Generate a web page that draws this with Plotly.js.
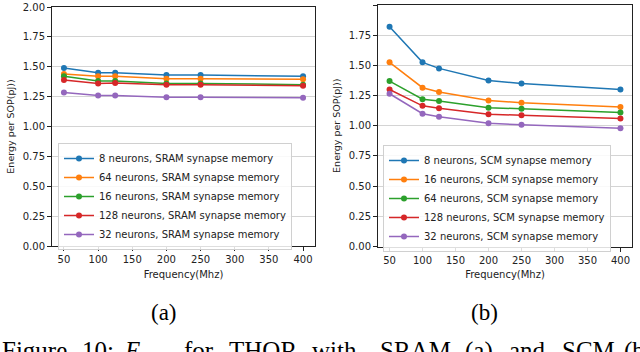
<!DOCTYPE html>
<html>
<head>
<meta charset="utf-8">
<script src="https://cdn.plot.ly/plotly-3.0.1.min.js"></script>
<style>
  html, body { margin: 0; padding: 0; background: #fff; }
  #chart { width: 640px; height: 352px; }
</style>
</head>
<body>
<div id="chart"></div>
<script>
// frequencies (MHz)
var freq = [50, 100, 125, 200, 250, 400];

// (a) SRAM synapse memory, energy per SOP (pJ)
var sramNames = ['8 neurons, SRAM synapse memory', '64 neurons, SRAM synapse memory',
  '16 neurons, SRAM synapse memory', '128 neurons, SRAM synapse memory', '32 neurons, SRAM synapse memory'];
var sram8   = [1.49, 1.45, 1.45, 1.43, 1.43, 1.42];
var sram64  = [1.44, 1.42, 1.42, 1.40, 1.40, 1.395];
var sram16  = [1.42, 1.38, 1.38, 1.36, 1.36, 1.35];
var sram128 = [1.39, 1.36, 1.365, 1.35, 1.35, 1.34];
var sram32  = [1.285, 1.26, 1.26, 1.245, 1.245, 1.24];

// (b) SCM synapse memory, energy per SOP (pJ)
var scmNames = ['8 neurons, SCM synapse memory', '16 neurons, SCM synapse memory',
  '64 neurons, SCM synapse memory', '128 neurons, SCM synapse memory', '32 neurons, SCM synapse memory'];
var scm8   = [1.82, 1.525, 1.475, 1.375, 1.35, 1.30];
var scm16  = [1.525, 1.315, 1.28, 1.21, 1.19, 1.155];
var scm64  = [1.37, 1.22, 1.205, 1.15, 1.14, 1.11];
var scm128 = [1.30, 1.165, 1.145, 1.095, 1.087, 1.06];
var scm32  = [1.265, 1.10, 1.075, 1.02, 1.008, 0.98];

var colors = ['#1f77b4', '#ff7f0e', '#2ca02c', '#d62728', '#9467bd'];

function mk(y, name, color, ax, leg) {
  return {
    x: freq, y: y, name: name, type: 'scatter', mode: 'lines+markers',
    xaxis: ax[0], yaxis: ax[1], legend: leg,
    line: {color: color, width: 1.5},
    marker: {color: color, size: 6}
  };
}

var data = [];
[sram8, sram64, sram16, sram128, sram32].forEach(function (s, i) {
  data.push(mk(s, sramNames[i], colors[i], ['x', 'y'], 'legend'));
});
[scm8, scm16, scm64, scm128, scm32].forEach(function (s, i) {
  data.push(mk(s, scmNames[i], colors[i], ['x2', 'y2'], 'legend2'));
});

var tickFont = {family: 'DejaVu Sans', size: 10, color: '#222'};

function xax(domain, anchor) {
  return {
    domain: domain, anchor: anchor, range: [32.5, 417.5],
    tickvals: [50, 100, 150, 200, 250, 300, 350, 400],
    ticks: 'outside', ticklen: 4, tickcolor: '#222',
    showline: true, mirror: true, linecolor: '#222', linewidth: 1,
    showgrid: false, zeroline: false, tickfont: tickFont,
    title: {text: 'Frequency(Mhz)', font: {family: 'DejaVu Sans', size: 10, color: '#222'}, standoff: 6}
  };
}
function yax(domain, anchor) {
  return {
    domain: domain, anchor: anchor, range: [0, 2],
    tickvals: [0, 0.25, 0.5, 0.75, 1, 1.25, 1.5, 1.75, 2], tickformat: '.2f',
    ticks: 'outside', ticklen: 4, tickcolor: '#222',
    showline: true, mirror: true, linecolor: '#222', linewidth: 1,
    showgrid: true, gridcolor: '#d4d4d4', gridwidth: 1, zeroline: false, tickfont: tickFont,
    title: {text: 'Energy per SOP(pJ))', font: {family: 'DejaVu Sans', size: 9.5, color: '#222'}, standoff: 6}
  };
}

var legStyle = {
  xanchor: 'left', yanchor: 'top', bgcolor: 'rgba(255,255,255,0.85)',
  bordercolor: '#d0d0d0', borderwidth: 1,
  font: {family: 'DejaVu Sans', size: 10, color: '#222'}
};

var W = 640, H = 352;
function capWord(t, px, size, yTop) {
  return {
    text: t, xref: 'paper', yref: 'paper', x: px / W, y: 1 - yTop / H,
    xanchor: 'left', yanchor: 'top', showarrow: false,
    font: {family: 'Liberation Serif', size: size, color: '#000'}
  };
}

var caption = [
  ['Figure', 0], ['10:', 80], ['<i>E</i><sub>sop</sub>', 122], ['for', 182], ['THOR', 227],
  ['with', 310], ['SRAM', 378], ['(a)', 463], ['and', 507], ['SCM', 560], ['(b)', 622]
];
var annotations = caption.map(function (c) { return capWord(c[0], c[1], 25, 335); });
annotations.push({text: '(a)', xref: 'paper', yref: 'paper', x: 164 / W, y: 1 - 312 / H,
  xanchor: 'center', yanchor: 'middle', showarrow: false,
  font: {family: 'Liberation Serif', size: 23, color: '#000'}});
annotations.push({text: '(b)', xref: 'paper', yref: 'paper', x: 484 / W, y: 1 - 312 / H,
  xanchor: 'center', yanchor: 'middle', showarrow: false,
  font: {family: 'Liberation Serif', size: 23, color: '#000'}});

var layout = {
  width: W, height: H,
  margin: {l: 0, r: 0, t: 0, b: 0},
  paper_bgcolor: '#fff', plot_bgcolor: '#fff',
  showlegend: true,
  xaxis: xax([52 / W, 315 / W], 'y'),
  yaxis: yax([1 - 246 / H, 1 - 7 / H], 'x'),
  xaxis2: xax([378 / W, 632 / W], 'y2'),
  yaxis2: yax([1 - 246.5 / H, 1 - 5 / H], 'x2'),
  legend: Object.assign({x: 58 / W, y: 1 - 143 / H}, legStyle),
  legend2: Object.assign({x: 383 / W, y: 1 - 145 / H}, legStyle),
  annotations: annotations
};

Plotly.newPlot('chart', data, layout, {displayModeBar: false, staticPlot: true});
</script>
</body>
</html>
